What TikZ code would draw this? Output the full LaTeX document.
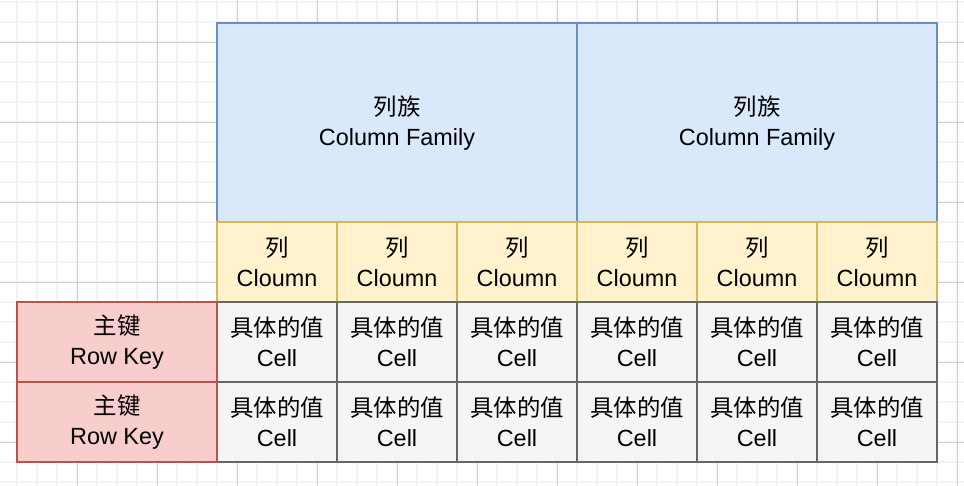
\documentclass[tikz,border=0pt]{standalone}
\usepackage{fontspec}
\setmainfont{Liberation Sans}
\newfontfamily\cjk{Noto Sans CJK SC}
\definecolor{famfill}{HTML}{DAE8FC}\definecolor{famline}{HTML}{6C8EBF}
\definecolor{colfill}{HTML}{FFF2CC}\definecolor{colline}{HTML}{D6B656}
\definecolor{keyfill}{HTML}{F8CECC}\definecolor{keyline}{HTML}{B85450}
\definecolor{cellfill}{HTML}{F5F5F5}\definecolor{cellline}{HTML}{666666}
\definecolor{gridminor}{HTML}{F2F2F2}\definecolor{gridmajor}{HTML}{D0D0D0}
\tikzset{
  box/.style={rectangle, inner sep=0pt, outer sep=0pt, line width=1.4bp, align=center,
    font=\fontsize{23.5}{30}\selectfont},
  family/.style={box, fill=famfill, draw=famline, minimum width=360bp, minimum height=200bp},
  colbox/.style={box, fill=colfill, draw=colline, minimum width=120bp, minimum height=80bp},
  keybox/.style={box, fill=keyfill, draw=keyline, minimum width=200bp, minimum height=80bp},
  cellbox/.style={box, fill=cellfill, draw=cellline, minimum width=120bp, minimum height=80bp},
}
\begin{document}
\begin{tikzpicture}[x=1bp,y=-1bp]
\useasboundingbox (0,0) rectangle (964,486);
\fill[white] (0,0) rectangle (964,486);
% background grid
\foreach \x in {17,37,...,957} \draw[gridminor, line width=1.2bp] (\x,0) -- (\x,486);
\foreach \y in {2,22,...,482} \draw[gridminor, line width=1.2bp] (0,\y) -- (964,\y);
\foreach \x in {77,157,...,957} \draw[gridmajor, line width=0.8bp] (\x,0) -- (\x,486);
\foreach \y in {42,122,...,442} \draw[gridmajor, line width=0.8bp] (0,\y) -- (964,\y);
% column families
\node[family] (cf1) at (397,123) {{\cjk 列族}\\Column Family};
\node[family] (cf2) at (757,123) {{\cjk 列族}\\Column Family};
% columns
\foreach \i in {1,...,6}
  \node[colbox] (c\i) at (157+120*\i,262) {{\cjk 列}\\Cloumn};
% cells
\foreach \r/\y in {1/342,2/422}
  \foreach \i in {1,...,6}
    \node[cellbox] (v\r\i) at (157+120*\i,\y) {{\cjk 具体的值}\\Cell};
% row keys
\node[keybox] (rk1) at (117,342) {{\cjk 主键}\\Row Key};
\node[keybox] (rk2) at (117,422) {{\cjk 主键}\\Row Key};
\end{tikzpicture}
\end{document}
